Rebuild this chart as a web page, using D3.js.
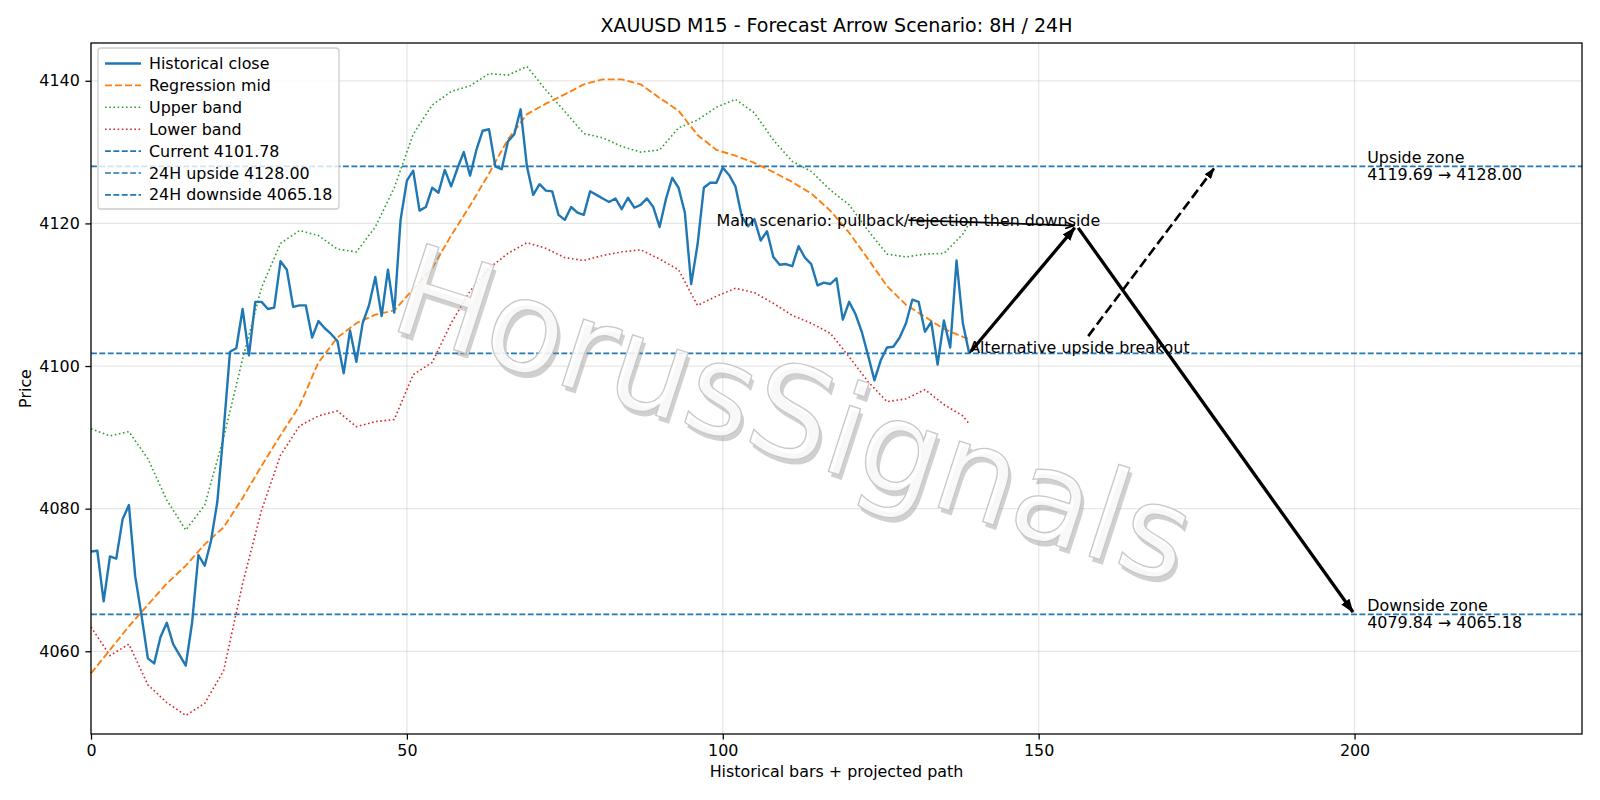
<!DOCTYPE html>
<html>
<head>
<meta charset="utf-8">
<script src="https://cdn.jsdelivr.net/npm/d3@7"></script>
<style>
  body { margin: 0; background: #fff; }
  text { font-family: "DejaVu Sans", sans-serif; fill: #000; }
</style>
</head>
<body>
<script>
// ---- data ----
const closeValues = [
  4074.0, 4074.1, 4067.0, 4073.3, 4073.0, 4078.5, 4080.5, 4070.5, 4065.0, 4059.0,
  4058.3, 4062.0, 4064.0, 4061.0, 4059.5, 4058.0, 4064.0, 4073.5, 4072.0, 4075.5,
  4081.0, 4091.0, 4102.0, 4102.5, 4108.0, 4101.5, 4109.0, 4109.0, 4108.0, 4108.2,
  4114.7, 4113.5, 4108.3, 4108.5, 4108.5, 4104.0, 4106.3, 4105.3, 4104.5, 4103.5,
  4099.0, 4105.0, 4100.6, 4106.0, 4108.5, 4112.5, 4107.0, 4113.5, 4107.5, 4120.5,
  4126.0, 4127.4, 4121.8, 4122.3, 4125.0, 4124.3, 4127.5, 4125.2, 4127.7, 4130.0,
  4126.7, 4130.3, 4133.0, 4133.2, 4128.0, 4127.6, 4131.5, 4132.5, 4136.0, 4128.0,
  4124.0, 4125.5, 4124.6, 4124.5, 4121.2, 4120.5, 4122.3, 4121.5, 4121.2, 4124.5,
  4124.0, 4123.5, 4123.0, 4123.5, 4122.0, 4123.6, 4122.2, 4122.6, 4123.5, 4122.3,
  4119.5, 4123.4, 4126.4, 4125.0, 4121.5, 4111.5, 4117.0, 4125.0, 4125.7, 4125.7,
  4127.8, 4126.8, 4125.2, 4121.0, 4119.6, 4120.6, 4117.6, 4118.9, 4115.3, 4114.2,
  4114.3, 4114.0, 4116.8, 4115.2, 4114.3, 4111.3, 4111.7, 4111.5, 4112.3, 4106.5,
  4109.0, 4107.3, 4104.8, 4101.5, 4098.0, 4100.8, 4102.6, 4102.7, 4104.0, 4106.0,
  4109.3, 4109.0, 4104.8, 4106.2, 4100.2, 4106.4, 4102.6, 4114.8, 4106.0, 4101.78
];

// bands were read every 3 bars
const bandIndex = [0, 3, 6, 9, 12, 15, 18, 21, 24, 27, 30, 33, 36, 39, 42, 45, 48, 51, 54, 57,
  60, 63, 66, 69, 72, 75, 78, 81, 84, 87, 90, 93, 96, 99, 102, 105, 108, 111, 114, 117,
  120, 123, 126, 129, 132, 135, 138, 139];
const regressionMid = [4056.9, 4060.2, 4063.5, 4066.5, 4069.5, 4072.0, 4075.0, 4077.4, 4081.5, 4086.0,
  4090.3, 4094.4, 4100.5, 4104.0, 4106.0, 4107.2, 4107.8, 4110.8, 4113.7, 4118.3,
  4122.5, 4127.0, 4131.8, 4135.3, 4136.8, 4138.1, 4139.5, 4140.2, 4140.2, 4139.5,
  4137.6, 4135.8, 4132.4, 4130.3, 4129.5, 4128.5, 4127.2, 4125.8, 4124.2, 4121.8,
  4118.7, 4115.0, 4111.2, 4108.6, 4106.9, 4105.2, 4104.1, 4103.8];
const upperBand = [4091.2, 4090.2, 4090.8, 4087.0, 4081.2, 4077.0, 4080.5, 4090.0, 4101.0, 4111.0,
  4117.2, 4119.0, 4118.3, 4116.4, 4116.0, 4119.5, 4125.0, 4132.5, 4136.6, 4138.5,
  4139.3, 4141.0, 4140.8, 4142.0, 4138.7, 4135.7, 4132.6, 4132.0, 4130.8, 4130.0,
  4130.3, 4133.4, 4134.5, 4136.3, 4137.4, 4135.5, 4131.7, 4128.7, 4127.3, 4124.7,
  4122.6, 4119.0, 4115.7, 4115.3, 4115.7, 4115.8, 4118.5, 4120.0];
const lowerBand = [4063.4, 4059.4, 4061.0, 4055.3, 4052.8, 4051.0, 4052.7, 4057.3, 4069.5, 4079.8,
  4087.5, 4091.6, 4093.0, 4093.7, 4091.5, 4092.2, 4092.5, 4098.8, 4100.5, 4106.0,
  4110.5, 4113.7, 4115.8, 4117.3, 4116.5, 4115.2, 4114.8, 4115.5, 4116.0, 4116.3,
  4115.0, 4113.5, 4108.5, 4109.8, 4110.9, 4110.3, 4108.8, 4107.1, 4106.0, 4104.6,
  4101.3, 4097.8, 4095.0, 4095.4, 4096.7, 4094.6, 4093.0, 4091.9];

const currentPrice = 4101.78;
const upsideTarget = 4128.00;
const downsideTarget = 4065.18;
const upsideZone = [4119.69, 4128.00];
const downsideZone = [4079.84, 4065.18];

// projected path: [bar, price]
const mainPath = [[139, 4101.78], [156, 4119.69], [200, 4065.18]];
const altPath = [[139, 4101.78], [178, 4128.00]];
const zoneLabelBar = 202;
const mainTextBar = 99;

const xTicks = [0, 50, 100, 150, 200];
const yTicks = [4060, 4080, 4100, 4120, 4140];
const xDomain = [0, 236];
const yDomain = [4048.4, 4145.3];

const legendItems = [
  { label: "Historical close", color: "#1f77b4", width: 2.4, dash: null },
  { label: "Regression mid", color: "#ff7f0e", width: 1.9, dash: "7,3" },
  { label: "Upper band", color: "#2ca02c", width: 1.6, dash: "1.6,2.6" },
  { label: "Lower band", color: "#d62728", width: 1.6, dash: "1.6,2.6" },
  { label: "Current " + currentPrice.toFixed(2), color: "#1f77b4", width: 1.6, dash: "5.9,2.5" },
  { label: "24H upside " + upsideTarget.toFixed(2), color: "#1f77b4", width: 1.6, dash: "5.9,2.5" },
  { label: "24H downside " + downsideTarget.toFixed(2), color: "#1f77b4", width: 1.6, dash: "5.9,2.5" }
];

var forecastChart = {
  margin: { top: 43, right: 18, bottom: 66, left: 91 },
  get width() { return 1600 - this.margin.left - this.margin.right; },
  get height() { return 800 - this.margin.top - this.margin.bottom; },
  fontSize: "15.9px",
  x: null,
  y: null,

  setupSVG: function() {
    this.root = d3.select("body").append("svg")
      .attr("width", 1600)
      .attr("height", 800);

    var defs = this.root.append("defs");
    // filled head for the thick arrows
    defs.append("marker")
      .attr("id", "headBig")
      .attr("markerUnits", "userSpaceOnUse")
      .attr("viewBox", "0 0 14 10")
      .attr("refX", 13).attr("refY", 5)
      .attr("markerWidth", 14).attr("markerHeight", 10)
      .attr("orient", "auto")
      .append("path").attr("d", "M0,0 L14,5 L0,10 Z").attr("fill", "#000");
    defs.append("marker")
      .attr("id", "headSmall")
      .attr("markerUnits", "userSpaceOnUse")
      .attr("viewBox", "0 0 11 8")
      .attr("refX", 10).attr("refY", 4)
      .attr("markerWidth", 11).attr("markerHeight", 8)
      .attr("orient", "auto")
      .append("path").attr("d", "M0,0 L11,4 L0,8 Z").attr("fill", "#000");
    defs.append("marker")
      .attr("id", "headOpen")
      .attr("markerUnits", "userSpaceOnUse")
      .attr("viewBox", "0 0 10 8")
      .attr("refX", 9).attr("refY", 4)
      .attr("markerWidth", 10).attr("markerHeight", 8)
      .attr("orient", "auto")
      .append("path").attr("d", "M0,0.5 L9,4 L0,7.5").attr("fill", "none")
      .attr("stroke", "#000").attr("stroke-width", 1.5);

    this.svg = this.root.append("g")
      .attr("transform", "translate(" + this.margin.left + "," + this.margin.top + ")");

    this.x = d3.scaleLinear().domain(xDomain).range([0, this.width]);
    this.y = d3.scaleLinear().domain(yDomain).range([this.height, 0]);

    // title + axis labels
    this.root.append("text")
      .attr("x", this.margin.left + this.width / 2)
      .attr("y", 32)
      .attr("text-anchor", "middle")
      .style("font-size", "19px")
      .text("XAUUSD M15 - Forecast Arrow Scenario: 8H / 24H");

    this.root.append("text")
      .attr("x", this.margin.left + this.width / 2)
      .attr("y", 777)
      .attr("text-anchor", "middle")
      .style("font-size", this.fontSize)
      .text("Historical bars + projected path");

    this.root.append("text")
      .attr("transform", "translate(31," + (this.margin.top + this.height / 2) + ") rotate(-90)")
      .attr("text-anchor", "middle")
      .style("font-size", this.fontSize)
      .text("Price");
  },

  drawGrid: function() {
    var g = this.svg.append("g").attr("class", "grid");
    g.selectAll(".gx").data(xTicks).enter().append("line")
      .attr("x1", d => this.x(d)).attr("x2", d => this.x(d))
      .attr("y1", 0).attr("y2", this.height)
      .attr("stroke", "#b0b0b0").attr("stroke-opacity", 0.3).attr("stroke-width", 1.3);
    g.selectAll(".gy").data(yTicks).enter().append("line")
      .attr("x1", 0).attr("x2", this.width)
      .attr("y1", d => this.y(d)).attr("y2", d => this.y(d))
      .attr("stroke", "#b0b0b0").attr("stroke-opacity", 0.3).attr("stroke-width", 1.3);
  },

  drawWatermark: function() {
    // big grey "3d" watermark across the plot
    var wm = this.root.append("g")
      .attr("transform", "translate(794,414) rotate(18)");
    wm.append("text")
      .attr("x", 4).attr("y", 4)
      .attr("text-anchor", "middle").attr("dominant-baseline", "central")
      .style("font-size", "127px")
      .style("fill", "#8a8a8a").style("fill-opacity", 0.4)
      .text("HorusSignals");
    wm.append("text")
      .attr("text-anchor", "middle").attr("dominant-baseline", "central")
      .style("font-size", "127px")
      .style("fill", "#ffffff").style("fill-opacity", 0.85)
      .style("stroke", "#c8c8c8").style("stroke-width", 1.3)
      .text("HorusSignals");
  },

  drawSeries: function() {
    var line = d3.line().x(d => this.x(d[0])).y(d => this.y(d[1]));
    var closePts = closeValues.map((v, i) => [i, v]);
    var bandPts = arr => bandIndex.map((b, i) => [b, arr[i]]);

    var plot = this.svg.append("g").attr("class", "series");

    // horizontal levels
    [currentPrice, upsideTarget, downsideTarget].forEach(lv => {
      plot.append("line")
        .attr("x1", 0).attr("x2", this.width)
        .attr("y1", this.y(lv)).attr("y2", this.y(lv))
        .attr("stroke", "#1f77b4").attr("stroke-width", 1.6)
        .attr("stroke-dasharray", "5.9,2.5");
    });

    plot.append("path").datum(bandPts(upperBand))
      .attr("d", line).attr("fill", "none")
      .attr("stroke", "#2ca02c").attr("stroke-width", 1.6).attr("stroke-dasharray", "1.6,2.6");
    plot.append("path").datum(bandPts(lowerBand))
      .attr("d", line).attr("fill", "none")
      .attr("stroke", "#d62728").attr("stroke-width", 1.6).attr("stroke-dasharray", "1.6,2.6");
    plot.append("path").datum(bandPts(regressionMid))
      .attr("d", line).attr("fill", "none")
      .attr("stroke", "#ff7f0e").attr("stroke-width", 1.9).attr("stroke-dasharray", "7,3");
    plot.append("path").datum(closePts)
      .attr("d", line).attr("fill", "none")
      .attr("stroke", "#1f77b4").attr("stroke-width", 2.4)
      .attr("stroke-linejoin", "round");
  },

  // line from a to b (pixels), pulled in a bit at both ends like matplotlib shrink
  arrow: function(g, a, b, opts) {
    var dx = b[0] - a[0], dy = b[1] - a[1];
    var len = Math.sqrt(dx * dx + dy * dy);
    var s0 = opts.shrinkA || 0, s1 = opts.shrinkB || 0;
    g.append("line")
      .attr("x1", a[0] + dx / len * s0).attr("y1", a[1] + dy / len * s0)
      .attr("x2", b[0] - dx / len * s1).attr("y2", b[1] - dy / len * s1)
      .attr("stroke", "#000")
      .attr("stroke-width", opts.width)
      .attr("stroke-dasharray", opts.dash || null)
      .attr("marker-end", "url(#" + opts.head + ")");
  },

  drawAnnotations: function() {
    var g = this.svg.append("g").attr("class", "annotations");
    var px = p => [this.x(p[0]), this.y(p[1])];

    // main scenario text + its thin pointer (from the text centre to the pullback point)
    var mainText = g.append("text")
      .attr("x", this.x(mainTextBar)).attr("y", this.y(upsideZone[0]))
      .style("font-size", this.fontSize)
      .text("Main scenario: pullback/rejection then downside");
    var mb = mainText.node().getBBox();
    this.arrow(g, [mb.x + mb.width / 2, mb.y + mb.height / 2], px(mainPath[1]),
      { width: 1.7, head: "headOpen", shrinkB: 2.8 });

    // alternative text + dashed arrow, starts at the top of the text box
    var altText = g.append("text")
      .attr("x", this.x(altPath[0][0])).attr("y", this.y(altPath[0][1]))
      .style("font-size", this.fontSize)
      .text("Alternative upside breakout");
    var ab = altText.node().getBBox();
    var c = [ab.x + ab.width / 2, ab.y + ab.height / 2];
    var tip = px(altPath[1]);
    var t = (c[1] - ab.y) / (c[1] - tip[1]);
    var start = [c[0] + (tip[0] - c[0]) * t, ab.y];
    this.arrow(g, start, tip, { width: 2.6, dash: "10,4.4", head: "headSmall", shrinkA: 2.8, shrinkB: 2.8 });

    // thick main path
    for (var i = 0; i < mainPath.length - 1; i++) {
      this.arrow(g, px(mainPath[i]), px(mainPath[i + 1]),
        { width: 3.3, head: "headBig", shrinkA: 2.8, shrinkB: 2.8 });
    }

    // zone labels, two lines centred on the level
    var zoneLabel = (lines, yv) => {
      var x0 = this.x(zoneLabelBar), y0 = this.y(yv);
      g.append("text").attr("x", x0).attr("y", y0 - 3.5)
        .style("font-size", this.fontSize).text(lines[0]);
      g.append("text").attr("x", x0).attr("y", y0 + 13.5)
        .style("font-size", this.fontSize).text(lines[1]);
    };
    zoneLabel(["Upside zone", upsideZone[0].toFixed(2) + " \u2192 " + upsideZone[1].toFixed(2)], upsideTarget);
    zoneLabel(["Downside zone", downsideZone[0].toFixed(2) + " \u2192 " + downsideZone[1].toFixed(2)], downsideTarget);
  },

  drawAxes: function() {
    var xa = this.svg.append("g")
      .attr("transform", "translate(0," + this.height + ")")
      .call(d3.axisBottom(this.x).tickValues(xTicks).tickSize(5.6).tickPadding(5.6).tickFormat(d3.format("d")));
    var ya = this.svg.append("g")
      .call(d3.axisLeft(this.y).tickValues(yTicks).tickSize(5.6).tickPadding(5.6).tickFormat(d3.format("d")));
    [xa, ya].forEach(a => {
      a.select(".domain").remove();
      a.selectAll("line").attr("stroke", "#000").attr("stroke-width", 1.27);
      a.selectAll("text").style("font-size", this.fontSize).style("font-family", "DejaVu Sans");
    });
    // frame
    this.svg.append("rect")
      .attr("width", this.width).attr("height", this.height)
      .attr("fill", "none").attr("stroke", "#000").attr("stroke-width", 1.27);
  },

  drawLegend: function() {
    var lg = this.svg.append("g").attr("transform", "translate(7,5)");
    lg.append("rect")
      .attr("width", 241).attr("height", 161).attr("rx", 3)
      .attr("fill", "#fff").attr("fill-opacity", 0.8)
      .attr("stroke", "#cccccc").attr("stroke-width", 1.27);
    var rows = lg.selectAll(".row").data(legendItems).enter().append("g")
      .attr("transform", (d, i) => "translate(0," + (15.5 + i * 21.9) + ")");
    rows.append("line")
      .attr("x1", 7).attr("x2", 43)
      .attr("stroke", d => d.color).attr("stroke-width", d => d.width)
      .attr("stroke-dasharray", d => d.dash);
    rows.append("text")
      .attr("x", 51).attr("dominant-baseline", "central")
      .style("font-size", this.fontSize)
      .text(d => d.label);
  },

  init: function() {
    this.setupSVG();
    this.drawGrid();
    this.drawWatermark();
    this.drawSeries();
    this.drawAnnotations();
    this.drawAxes();
    this.drawLegend();
  }
};

forecastChart.init();
</script>
</body>
</html>
